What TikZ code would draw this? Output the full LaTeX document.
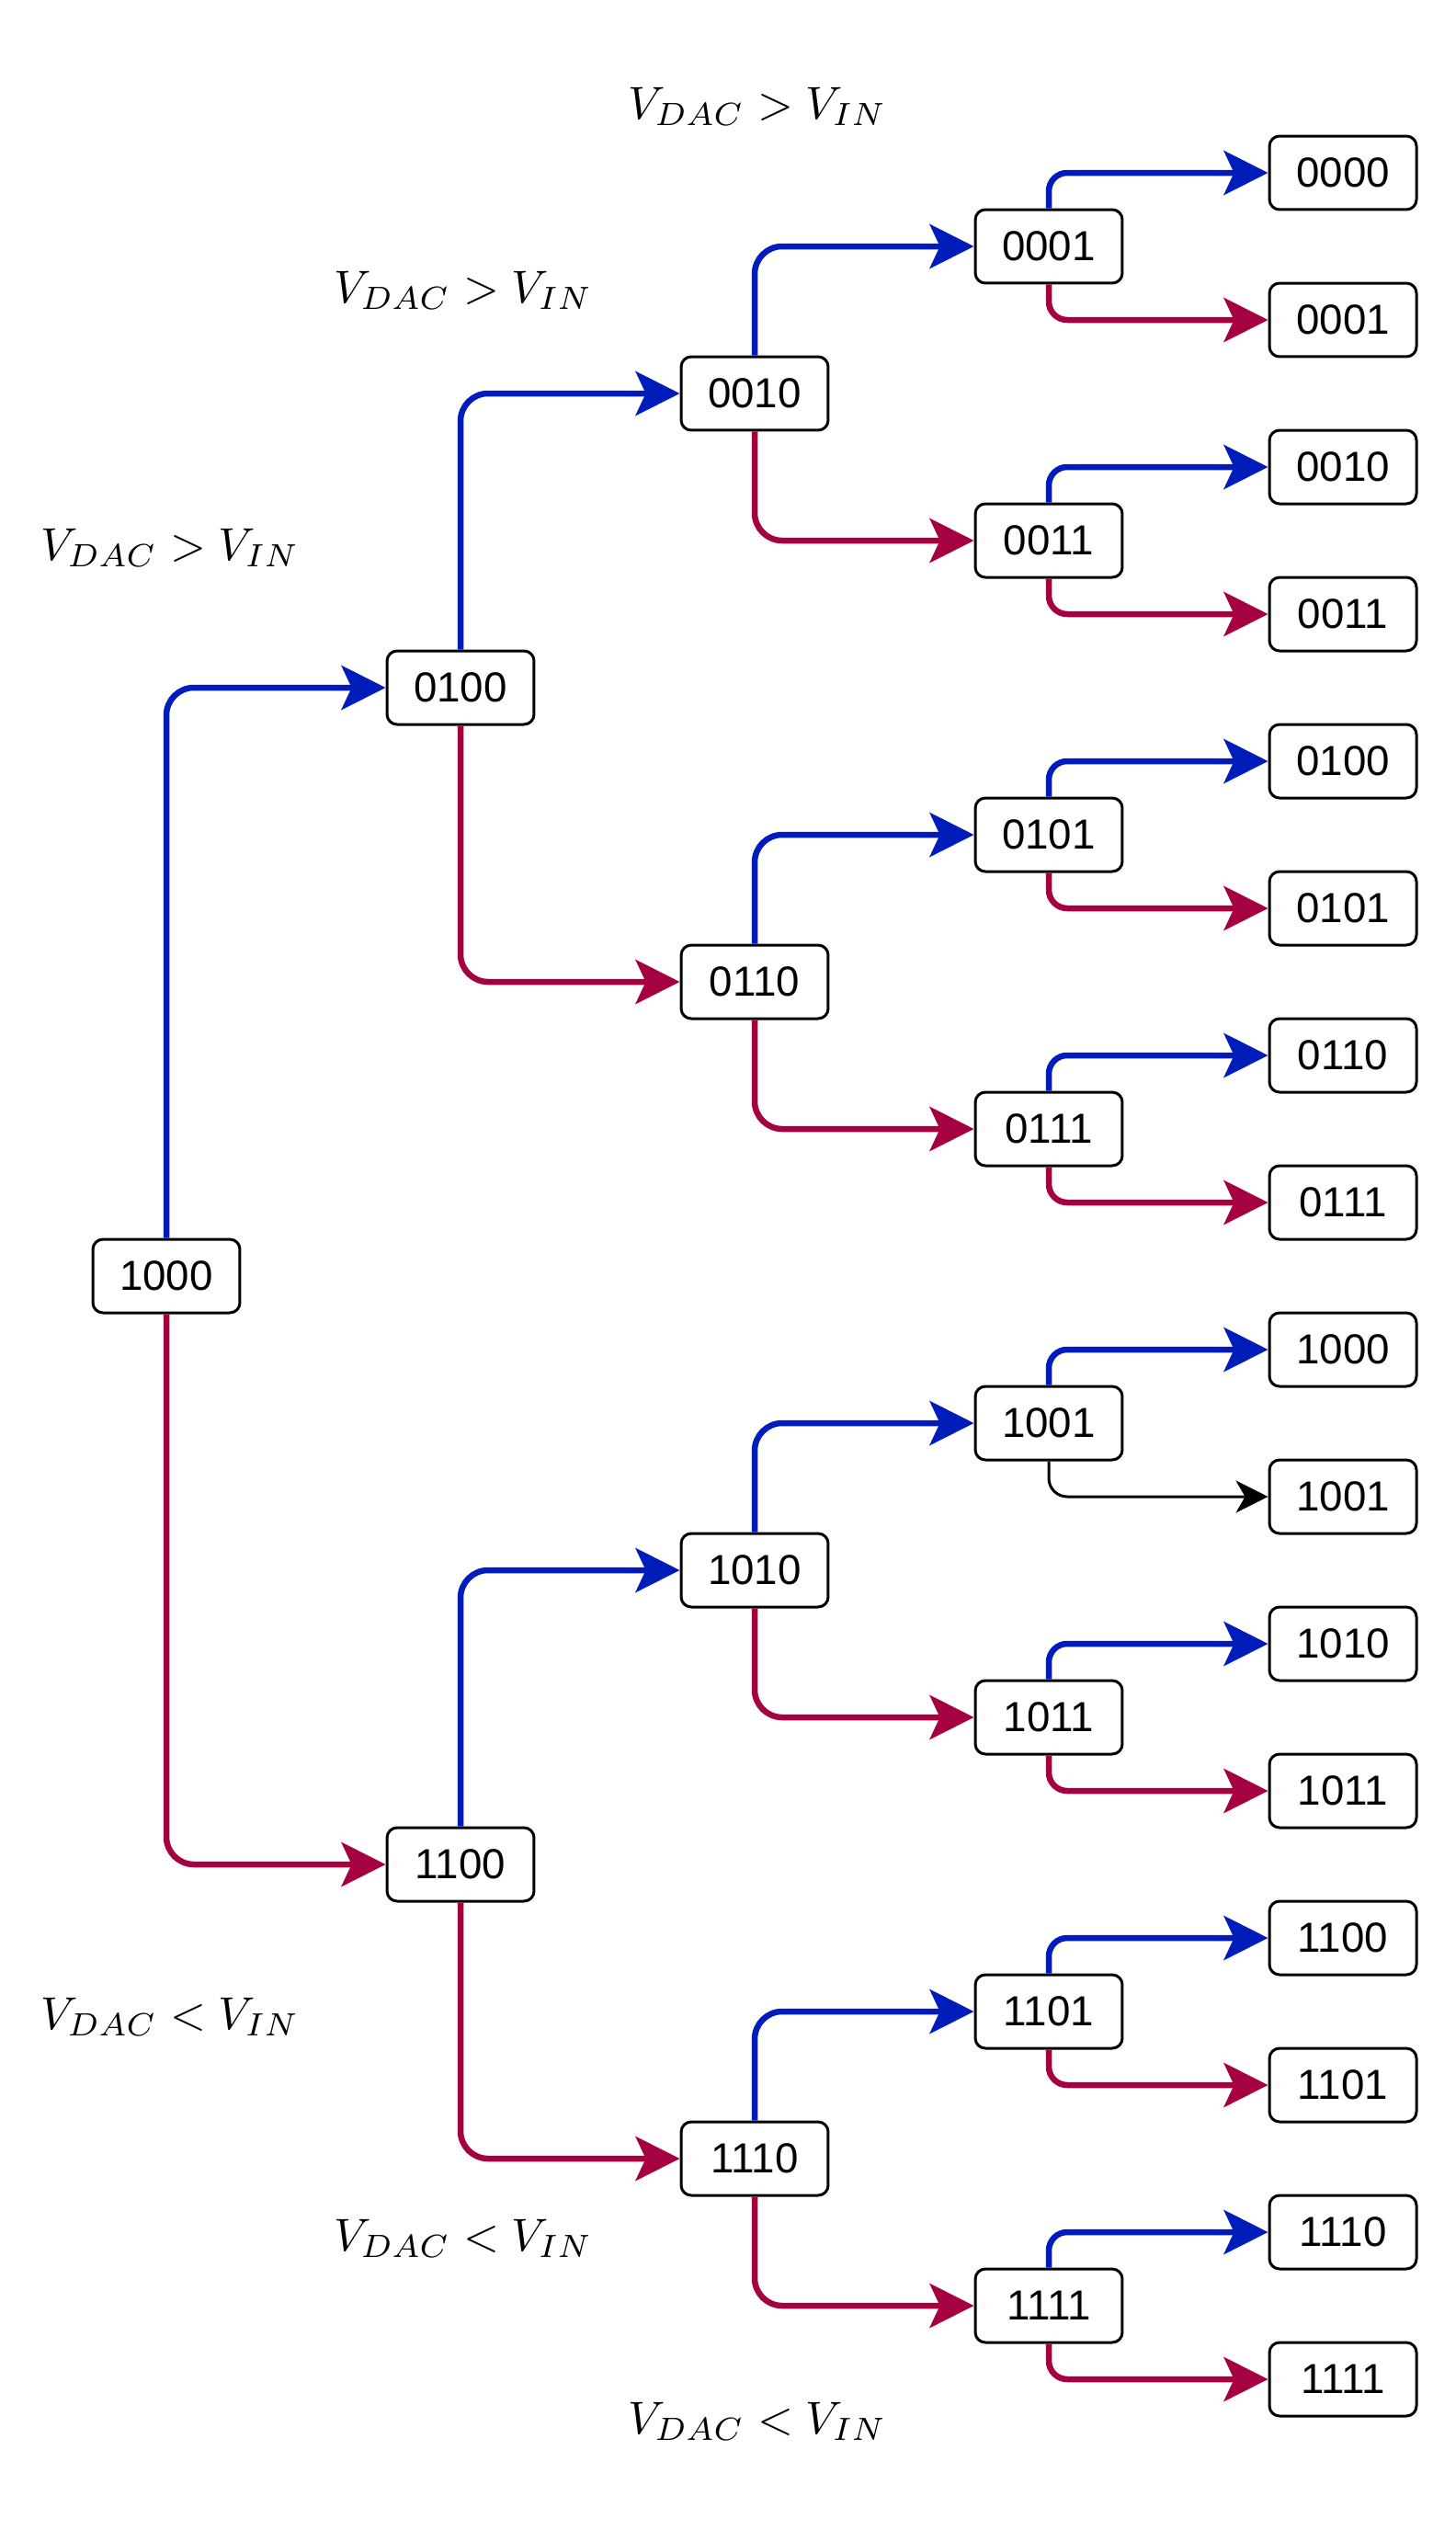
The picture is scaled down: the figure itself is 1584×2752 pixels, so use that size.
\documentclass[tikz,border=0pt]{standalone}
\usepackage{graphicx}
\usepackage{fontspec}
\newfontfamily\arial{Liberation Sans}
\usetikzlibrary{arrows.meta}
\definecolor{cblue}{HTML}{001DBC}
\definecolor{cred}{HTML}{A50040}
\newcommand{\condtext}[1]{\scalebox{2.85}{$#1$}}
\begin{document}
\begin{tikzpicture}[x=0.02cm,y=-0.02cm,
  box/.style={draw, line width=0.06cm, rounded corners=0.22cm, minimum width=3.2cm, minimum height=1.6cm, inner sep=0pt, fill=white, font=\arial\fontsize{26}{30}\selectfont},
  edge/.style={line width=0.13cm, rounded corners=0.6cm, -{Stealth[length=0.96cm,width=0.96cm,inset=0.22cm]}},
  upedge/.style={edge, cblue},
  downedge/.style={edge, cred},
  thinedge/.style={line width=0.06cm, rounded corners=0.5cm, black, -{Stealth[length=0.7cm,width=0.7cm,inset=0.2cm]}},
  cond/.style={inner sep=0pt}]
\useasboundingbox (0,0) rectangle (1584,2752);
% level 4
\foreach \k/\t in {0/0000,1/0001,2/0010,3/0011,4/0100,5/0101,6/0110,7/0111,8/1000,9/1001,10/1010,11/1011,12/1100,13/1101,14/1110,15/1111}
  \node[box] (l4-\k) at (1461,{188+160*\k}) {\t};
% level 3
\foreach \k/\t in {0/0001,1/0011,2/0101,3/0111,4/1001,5/1011,6/1101,7/1111}
  \node[box] (l3-\k) at (1141,{268+320*\k}) {\t};
% level 2
\foreach \k/\t in {0/0010,1/0110,2/1010,3/1110}
  \node[box] (l2-\k) at (821,{428+640*\k}) {\t};
% level 1
\node[box] (l1-0) at (501,748) {0100};
\node[box] (l1-1) at (501,2028) {1100};
% level 0
\node[box] (l0) at (181,1388) {1000};
% edges
\draw[upedge] (l0.north) |- (l1-0.west);
\draw[downedge] (l0.south) |- (l1-1.west);
\draw[upedge] (l1-0.north) |- (l2-0.west);
\draw[downedge] (l1-0.south) |- (l2-1.west);
\draw[upedge] (l1-1.north) |- (l2-2.west);
\draw[downedge] (l1-1.south) |- (l2-3.west);
\foreach \i in {0,1,2,3}{
  \pgfmathtruncatemacro{\a}{2*\i}
  \pgfmathtruncatemacro{\b}{2*\i+1}
  \draw[upedge] (l2-\i.north) |- (l3-\a.west);
  \draw[downedge] (l2-\i.south) |- (l3-\b.west);
}
\foreach \j in {0,1,2,3,5,6,7}{
  \pgfmathtruncatemacro{\a}{2*\j}
  \pgfmathtruncatemacro{\b}{2*\j+1}
  \draw[upedge, rounded corners=0.4cm] (l3-\j.north) |- (l4-\a.west);
  \draw[downedge, rounded corners=0.4cm] (l3-\j.south) |- (l4-\b.west);
}
\draw[upedge, rounded corners=0.4cm] (l3-4.north) |- (l4-8.west);
\draw[thinedge, rounded corners=0.4cm] (l3-4.south) |- (l4-9.west);
% conditions
\node[cond] (g1) at (185,596) {\condtext{V_{DAC} > V_{IN}}};
\node[cond] (g2) at (504,316) {\condtext{V_{DAC} > V_{IN}}};
\node[cond] (g3) at (824,116) {\condtext{V_{DAC} > V_{IN}}};
\node[cond] (s1) at (185,2194) {\condtext{V_{DAC} < V_{IN}}};
\node[cond] (s2) at (504,2435) {\condtext{V_{DAC} < V_{IN}}};
\node[cond] (s3) at (824,2634) {\condtext{V_{DAC} < V_{IN}}};
\end{tikzpicture}
\end{document}
